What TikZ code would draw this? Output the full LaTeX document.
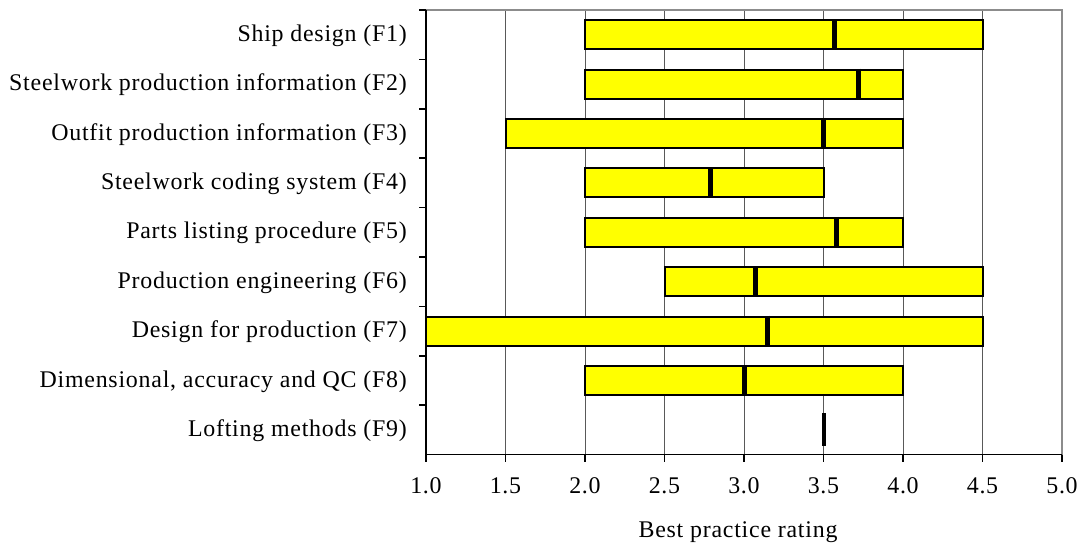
\documentclass[tikz,border=0pt]{standalone}
\usepackage{fontspec}
\setmainfont{Liberation Serif}[LetterSpace=3.2]
\usetikzlibrary{positioning}

\definecolor{barfill}{RGB}{255,255,0}
\tikzset{
  bar/.style={draw=black, line width=2pt, fill=barfill},
  median/.style={draw=black, line width=5pt},
  gridline/.style={draw=black!65, line width=1pt},
  frameline/.style={draw=black!45, line width=2pt},
  axisline/.style={draw=black, line width=1.5pt},
  rowlabel/.style={anchor=base east, inner sep=0pt, font=\fontsize{23.9}{28}\selectfont},
  ticklabel/.style={anchor=base, inner sep=0pt, font=\fontsize{23.9}{28}\selectfont},
}

\begin{document}
\begin{tikzpicture}[x=1pt, y=-1pt]
\useasboundingbox (0,0) rectangle (1084,544);

%%% rating axis: 1 unit = 159px, row = 49.4px %%%
\begin{scope}[xshift=267pt, yshift=-10pt, x=159pt, y=-49.4pt]
  \coordinate (plotnw) at (1,0);
  \coordinate (plotse) at (5,9);
  %% grid
  \foreach \v in {1.5,2,...,4.5}
    \draw[gridline] (\v,0) -- (\v,9);
  \draw[frameline] (plotnw) -- (5,0) -- (plotse);
  %% bars
  \foreach \lo/\hi/\med [count=\i] in {2/4.5/3.57, 2/4/3.72, 1.5/4/3.5, 2/3.5/2.79,
      2/4/3.58, 2.5/4.5/3.07, 1/4.5/3.15, 2/4/3.0}
  {
    \draw[bar] (\lo,\i-0.5-0.294) rectangle (\hi,\i-0.5+0.294);
    \draw[median] (\med,\i-0.5-0.314) -- (\med,\i-0.5+0.314);
  }
  \draw[median, line width=4pt] (3.5,8.5-0.334) -- (3.5,8.5+0.334);
  %% axes and ticks
  \draw[axisline] (plotnw) -- (1,9) -- (plotse);
  \foreach \r in {0,...,8}
    \draw[axisline] (1,\r) -- ++(-7pt,0);
  \foreach \v/\txt [count=\k] in {1/1.0, 1.5/1.5, 2/2.0, 2.5/2.5, 3/3.0,
      3.5/3.5, 4/4.0, 4.5/4.5, 5/5.0}
  {
    \draw[axisline] (\v,9) -- ++(0,-7pt);
    \node[ticklabel] (tick\k) at ([yshift=-39pt]\v,9) {\txt};
  }
\end{scope}

%% row labels
\foreach \name [count=\i] in {Ship design (F1), Steelwork production information (F2),
    Outfit production information (F3), Steelwork coding system (F4),
    Parts listing procedure (F5), Production engineering (F6),
    Design for production (F7), {Dimensional, accuracy and QC (F8)}, Lofting methods (F9)}
  \node[rowlabel] (label\i) at (407,{10+(\i-0.5)*49.4+6.6}) {\name};

\node[ticklabel] (xtitle) at (738,537) {Best practice rating};

\end{tikzpicture}
\end{document}
